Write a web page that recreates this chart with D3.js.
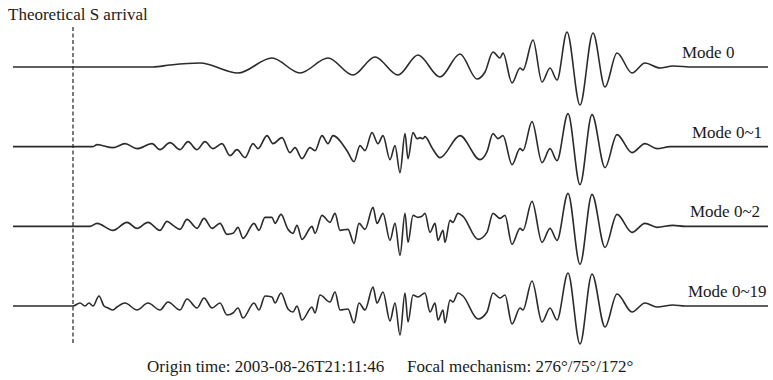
<!DOCTYPE html>
<html><head><meta charset="utf-8">
<script src="https://cdn.jsdelivr.net/npm/d3@7"></script>
<style>html,body{margin:0;padding:0;background:#fff;}svg{display:block;}</style>
</head><body>
<script>
// ---- data: [time (s), amplitude (arbitrary units)] ----
const traceLabels = ["Mode 0", "Mode 0~1", "Mode 0~2", "Mode 0~19"];
const sArrival = 60;
const timeDomain = [0, 755];
const mode0 = [[0,0],[140,0],[157,2],[187,4],[225,-6],[259,9],[287,-6],[315,9],[340,-8],[362,10],[385,-8],[405,12],[427,-10],[447,13],[464,-12],[472,-5],[480,15],[487,9],[490,14],[499,-16],[507,-1],[510,-3],[520,27],[529,-15],[537,-1],[544,-13],[554,35],[567,-38],[580,34],[592,-20],[604,14],[619,-6],[632,4],[647,-1],[660,1],[680,0],[755,0]];
const mode01 = [[0,0],[80,0],[84,2],[100,-1],[112,3],[124,-2],[139,3],[147,-3],[157,4],[167,-3],[175,5],[184,-3],[192,5],[200,-2],[209,3],[217,-9],[224,-3],[232,-11],[240,3],[245,-2],[254,11],[260,3],[269,9],[277,-6],[282,-1],[289,-12],[297,-1],[302,-4],[309,11],[315,3],[320,11],[334,-4],[341,-15],[347,1],[352,-4],[359,14],[365,3],[370,11],[377,-13],[382,1],[387,-26],[392,13],[395,-12],[400,14],[404,8],[407,9],[410,8],[412,10],[419,-1],[427,-11],[447,11],[467,-13],[474,-5],[480,13],[485,8],[490,11],[499,-18],[507,-2],[510,-4],[519,25],[529,-16],[537,-2],[544,-14],[555,33],[567,-38],[579,32],[592,-21],[604,12],[619,-6],[632,3],[644,-2],[657,0],[755,0]];
const mode02 = [[0,0],[77,0],[84,3],[100,-4],[114,4],[124,-2],[135,4],[147,-4],[154,5],[160,1],[167,-3],[174,7],[184,-2],[191,8],[199,-2],[207,3],[214,-8],[220,-7],[225,-1],[230,-12],[241,3],[246,-4],[252,9],[259,9],[262,3],[268,12],[275,-3],[280,-7],[284,1],[289,-13],[299,0],[302,-7],[309,11],[317,4],[322,13],[327,-4],[335,-3],[341,-17],[346,3],[352,-3],[360,19],[364,3],[370,13],[377,-14],[382,3],[387,-29],[392,13],[395,-16],[400,11],[405,9],[409,10],[412,13],[417,-6],[422,3],[425,-14],[430,-4],[432,-16],[437,6],[440,4],[445,13],[450,10],[465,-13],[474,-6],[480,13],[487,8],[492,11],[499,-18],[507,-2],[510,-4],[519,25],[529,-16],[537,-2],[544,-14],[555,33],[567,-38],[579,32],[592,-21],[604,12],[619,-6],[632,3],[644,-1],[660,1],[672,0],[755,0]];
const mode019 = [[0,0],[60,0],[67,3],[72,0],[76,3],[80,0],[86,10],[91,0],[95,-2],[100,-4],[104,-1],[112,3],[124,-4],[135,3],[147,-4],[155,4],[167,-4],[174,7],[184,-2],[191,8],[199,-2],[207,3],[214,-9],[220,-7],[225,-2],[230,-12],[241,3],[246,-4],[252,10],[259,9],[262,3],[268,13],[275,-3],[280,-6],[284,0],[289,-14],[299,-1],[302,-7],[307,11],[317,4],[322,14],[327,-4],[335,-3],[341,-17],[346,3],[352,-4],[360,19],[364,3],[370,14],[377,-15],[382,3],[387,-29],[392,13],[395,-16],[400,11],[405,9],[412,13],[417,-6],[422,3],[425,-14],[430,-4],[432,-17],[437,6],[440,4],[445,13],[450,10],[465,-13],[474,-6],[480,13],[487,8],[492,11],[499,-18],[507,-2],[510,-4],[519,25],[529,-16],[537,-2],[544,-14],[555,33],[567,-38],[579,32],[592,-21],[604,12],[619,-6],[632,3],[644,-1],[660,1],[672,0],[755,0]];
const originText = "Origin time: 2003-08-26T21:11:46";
const focalText = "Focal mechanism: 276°/75°/172°";
const sLabel = "Theoretical S arrival";

// ---- drawing ----
const W = 773, H = 380;
const traces = [mode0, mode01, mode02, mode019];
const svg = d3.select("body").append("svg").attr("width", W).attr("height", H)
  .style("font-family", "'Liberation Serif','Times New Roman',serif");

const x = d3.scaleLinear().domain(timeDomain).range([13, 768]);
const rowY = d3.scalePoint().domain(traceLabels).range([67, 306]);
const amp = d3.scaleLinear().domain([-40, 40]).range([40, -40]);

const line = d3.line().x(d => x(d[0])).y(d => amp(d[1])).curve(d3.curveMonotoneX);

const labelX = [682, 692, 690, 688];
traceLabels.forEach((lab, i) => {
  const g = svg.append("g").attr("transform", `translate(0,${rowY(lab)})`);
  g.append("path").datum(traces[i]).attr("d", line)
    .attr("fill", "none").attr("stroke", "#2b2b2b").attr("stroke-width", 1.6)
    .attr("stroke-linejoin", "round");
  g.append("text").attr("x", labelX[i]).attr("y", -9)
    .attr("font-size", 17).attr("fill", "#1a1a1a").text(lab);
});

svg.append("line").attr("x1", x(sArrival)).attr("x2", x(sArrival))
  .attr("y1", 27).attr("y2", 345)
  .attr("stroke", "#222").attr("stroke-width", 1.2).attr("stroke-dasharray", "4,2.5");

svg.append("text").attr("x", 8).attr("y", 20).attr("font-size", 17).attr("fill", "#1a1a1a").text(sLabel);
svg.append("text").attr("x", 147).attr("y", 372).attr("font-size", 17).attr("fill", "#1a1a1a").text(originText);
svg.append("text").attr("x", 407).attr("y", 372).attr("font-size", 17).attr("fill", "#1a1a1a").text(focalText);
</script>
</body></html>
